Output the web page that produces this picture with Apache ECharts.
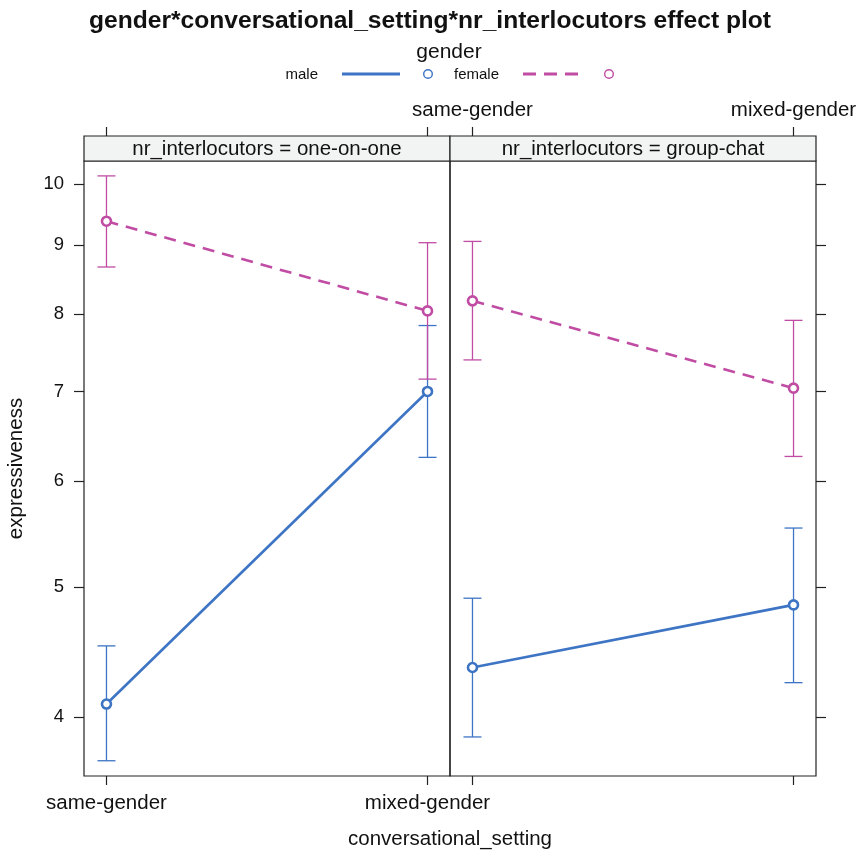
<!DOCTYPE html>
<html>
<head>
<meta charset="utf-8">
<script src="https://cdn.jsdelivr.net/npm/echarts@6/dist/echarts.min.js"></script>
<style>
  html, body { margin: 0; padding: 0; background: #fff; }
  #main { width: 860px; height: 852px; }
</style>
</head>
<body>
<div id="main"></div>
<script>
// effect plot data
const settings = ['same-gender', 'mixed-gender']
const panels = ['one-on-one', 'group-chat']
const yTicks = [4, 5, 6, 7, 8, 9, 10]

// per panel: [same-gender, mixed-gender]
const maleFit = [[4.09, 7.0], [4.355, 4.85]]
const maleLower = [[3.71, 6.25], [3.865, 4.243]]
const maleUpper = [[4.52, 7.84], [4.906, 5.535]]
const femaleFit = [[9.38, 8.04], [8.18, 7.04]]
const femaleLower = [[8.67, 7.15], [7.39, 6.26]]
const femaleUpper = [[10.14, 9.04], [9.06, 7.91]]

const blue = '#3d74c4'
const pink = '#c04ca3'
const ink = '#222'
const font = 'Liberation Sans, Arial, Helvetica, sans-serif'
const labFont = 20.5

// layout
const panelTop = 161, panelBottom = 776, stripTop = 136
const panelLeft = [84, 450], panelWidth = [366, 366]

const chart = echarts.init(document.getElementById('main'), null, { renderer: 'canvas' })

function pts(arr) {
  return arr.map((v, i) => [i, v])
}

function errBars(lo, hi, color, gi) {
  return {
    type: 'custom',
    xAxisIndex: gi * 2,
    yAxisIndex: gi,
    data: lo.map((v, i) => [i, v, hi[i]]),
    z: 3,
    silent: true,
    renderItem(params, api) {
      const a = api.coord([api.value(0), api.value(1)])
      const b = api.coord([api.value(0), api.value(2)])
      const w = 9
      const style = { stroke: color, lineWidth: 1.3, fill: null }
      return {
        type: 'group',
        children: [
          { type: 'line', shape: { x1: a[0], y1: a[1], x2: b[0], y2: b[1] }, style },
          { type: 'line', shape: { x1: a[0] - w, y1: a[1], x2: a[0] + w, y2: a[1] }, style },
          { type: 'line', shape: { x1: b[0] - w, y1: b[1], x2: b[0] + w, y2: b[1] }, style }
        ]
      }
    }
  }
}

function fitLine(vals, color, dashed, gi) {
  return {
    type: 'line',
    xAxisIndex: gi * 2,
    yAxisIndex: gi,
    data: pts(vals),
    z: 4,
    silent: true,
    symbol: 'circle',
    symbolSize: 9,
    itemStyle: { color: '#fff', borderColor: color, borderWidth: 2.6 },
    lineStyle: { color: color, width: 2.6, type: dashed ? [12, 8] : 'solid' },
    animation: false
  }
}

const grids = [], xAxes = [], yAxes = [], series = []
panels.forEach((p, gi) => {
  grids.push({
    left: panelLeft[gi], width: panelWidth[gi],
    top: panelTop, height: panelBottom - panelTop,
    show: true, borderColor: ink, borderWidth: 1.2, backgroundColor: 'transparent'
  })
  const tick = { show: true, customValues: [0, 1], length: 9, inside: false, lineStyle: { color: ink, width: 1.2 } }
  // bottom axis: labels on left panel only
  xAxes.push({
    type: 'value', gridIndex: gi, min: -0.07, max: 1.07, position: 'bottom',
    splitLine: { show: false },
    axisLine: { show: false, onZero: false },
    axisTick: tick,
    axisLabel: {
      show: gi === 0, customValues: [0, 1], margin: 17,
      color: '#111', fontSize: labFont, fontFamily: font,
      formatter: v => settings[Math.round(v)]
    }
  })
  // top axis sits above the strip: labels on right panel only
  xAxes.push({
    type: 'value', gridIndex: gi, min: -0.07, max: 1.07, position: 'top',
    offset: panelTop - stripTop,
    splitLine: { show: false },
    axisLine: { show: false, onZero: false },
    axisTick: tick,
    axisLabel: {
      show: gi === 1, customValues: [0, 1], margin: 15,
      color: '#111', fontSize: labFont, fontFamily: font,
      formatter: v => settings[Math.round(v)]
    }
  })
  yAxes.push({
    type: 'log', gridIndex: gi, logBase: 10, min: 3.614, max: 10.403,
    position: gi === 0 ? 'left' : 'right',
    splitLine: { show: false },
    axisLine: { show: false, onZero: false },
    axisTick: { show: true, customValues: yTicks, length: 10, lineStyle: { color: ink, width: 1.2 } },
    axisLabel: {
      show: gi === 0, customValues: yTicks, margin: 20,
      color: '#111', fontSize: 18.5, fontFamily: font
    },
    name: gi === 0 ? 'expressiveness' : '',
    nameLocation: 'middle', nameGap: 57, nameRotate: 90,
    nameTextStyle: { color: '#111', fontSize: labFont, fontFamily: font }
  })
  series.push(errBars(maleLower[gi], maleUpper[gi], blue, gi))
  series.push(errBars(femaleLower[gi], femaleUpper[gi], pink, gi))
  series.push(fitLine(maleFit[gi], blue, false, gi))
  series.push(fitLine(femaleFit[gi], pink, true, gi))
})

// strips and legend are decoration
const graphic = []
panels.forEach((p, gi) => {
  graphic.push({
    type: 'rect', z: 10,
    shape: { x: panelLeft[gi], y: stripTop, width: panelWidth[gi], height: panelTop - stripTop },
    style: { fill: '#f2f3f3', stroke: ink, lineWidth: 1.2 }
  })
  graphic.push({
    type: 'text', z: 11,
    x: panelLeft[gi] + panelWidth[gi] / 2, y: (stripTop + panelTop) / 2 + 1,
    style: { text: 'nr_interlocutors = ' + p, fill: '#111', font: labFont + 'px ' + font, align: 'center', verticalAlign: 'middle' }
  })
})
graphic.push(
  { type: 'text', x: 449, y: 52, style: { text: 'gender', fill: '#111', font: '21px ' + font, align: 'center', verticalAlign: 'middle' } },
  { type: 'text', x: 318, y: 75, style: { text: 'male', fill: '#111', font: '15px ' + font, align: 'right', verticalAlign: 'middle' } },
  { type: 'line', shape: { x1: 342, y1: 74, x2: 400, y2: 74 }, style: { stroke: blue, lineWidth: 2.8 } },
  { type: 'circle', shape: { cx: 428, cy: 74, r: 4.3 }, style: { stroke: blue, fill: '#fff', lineWidth: 1.4 } },
  { type: 'text', x: 454, y: 75, style: { text: 'female', fill: '#111', font: '15px ' + font, align: 'left', verticalAlign: 'middle' } },
  { type: 'line', shape: { x1: 523, y1: 74, x2: 578, y2: 74 }, style: { stroke: pink, lineWidth: 2.8, lineDash: [13, 8] } },
  { type: 'circle', shape: { cx: 609, cy: 74, r: 4.3 }, style: { stroke: pink, fill: '#fff', lineWidth: 1.4 } },
  { type: 'text', x: 450, y: 839, style: { text: 'conversational_setting', fill: '#111', font: labFont + 'px ' + font, align: 'center', verticalAlign: 'middle' } }
)

chart.setOption({
  animation: false,
  backgroundColor: '#fff',
  title: {
    text: 'gender*conversational_setting*nr_interlocutors effect plot',
    left: 'center', top: 4,
    textStyle: { fontSize: 24.6, fontWeight: 'bold', color: '#111', fontFamily: font }
  },
  grid: grids,
  xAxis: xAxes,
  yAxis: yAxes,
  series: series,
  graphic: graphic
})
</script>
</body>
</html>
